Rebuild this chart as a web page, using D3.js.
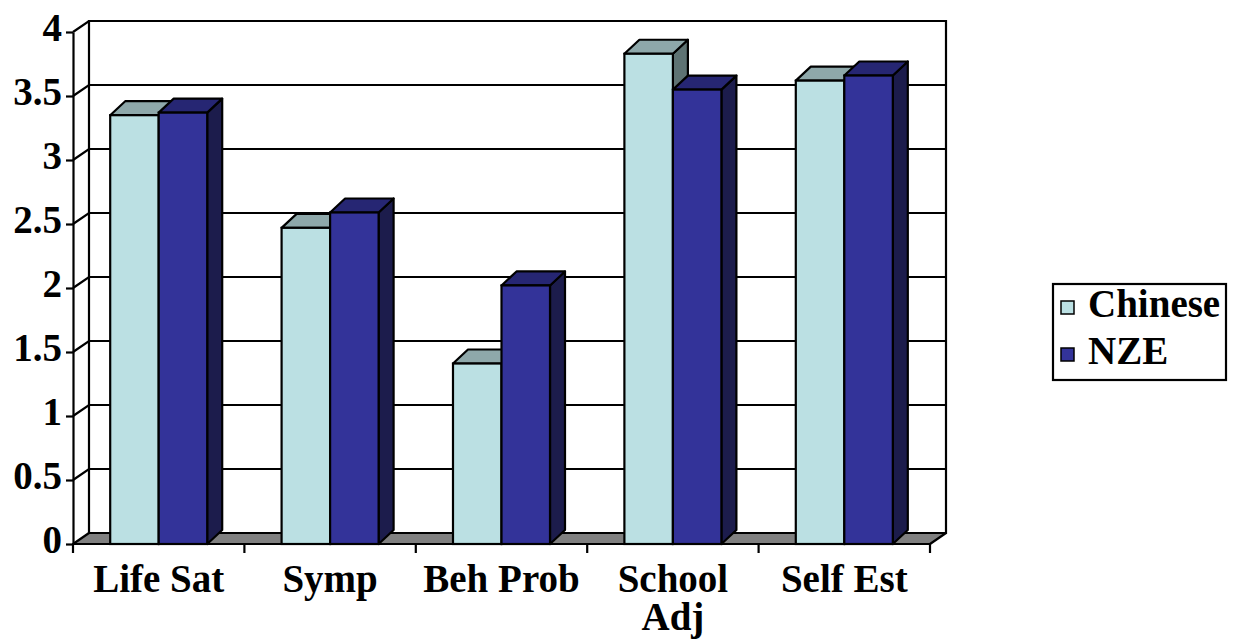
<!DOCTYPE html>
<html>
<head>
<meta charset="utf-8">
<script src="https://cdn.jsdelivr.net/npm/d3@7"></script>
<style>
  html, body { margin: 0; padding: 0; background: #fff; }
  svg { display: block; }
  svg text { font-family: "Liberation Serif", "Times New Roman", Times, "DejaVu Serif", serif !important; font-weight: 700; fill: #000; }
</style>
</head>
<body>
<svg id="chart" width="1238" height="641"></svg>
<script>
// Mean scores by domain for the two groups
const categories = ["Life Sat", "Symp", "Beh Prob", "School Adj", "Self Est"];
const seriesNames = ["Chinese", "NZE"];
const chineseValues = [3.35, 2.47, 1.41, 3.83, 3.62];
const nzeValues = [3.37, 2.59, 2.02, 3.55, 3.66];
const yTickValues = [0, 0.5, 1, 1.5, 2, 2.5, 3, 3.5, 4];

// Face colours for each series: front, top, side
const palette = {
  Chinese: { front: "#BBE0E3", top: "#8EA8AA", side: "#5E7373" },
  NZE:     { front: "#333399", top: "#262673", side: "#1C1C4C" }
};

const FONT = "'Liberation Serif', 'Times New Roman', Times, 'DejaVu Serif', serif";
const FS = "39px";

const svg = d3.select("#chart");
const W = 1238, H = 641;
svg.append("rect").attr("width", W).attr("height", H).attr("fill", "#fff");

// Front plane geometry and 3-D depth offsets
const x0 = 73, x1 = 930;
const wallDx = 16, wallDy = -11;
const barDx = 15, barDy = -14;

const y = d3.scaleLinear().domain([0, 4]).range([544, 32]);
const x = d3.scaleBand().domain(categories).range([x0, x1]).paddingInner(0).paddingOuter(0);
const bw = x.bandwidth();
const xs = d3.scaleBand().domain(seriesNames).range([bw * 0.217, bw * 0.783]).padding(0);

const rows = categories.map((c, i) => ({ cat: c, Chinese: chineseValues[i], NZE: nzeValues[i] }));

const line = d3.line();
const stroke = "#000", sw = 2.2;

// Back wall and left side wall
const wall = svg.append("g");
wall.append("path")
  .attr("d", line([[x0 + wallDx, y(4) + wallDy], [x1 + wallDx, y(4) + wallDy], [x1 + wallDx, y(0) + wallDy], [x0 + wallDx, y(0) + wallDy]]) + "Z")
  .attr("fill", "#fff").attr("stroke", stroke).attr("stroke-width", sw);

// Gridlines on the back wall, with their diagonals across the side wall
wall.selectAll("path.grid").data(yTickValues.filter(v => v > 0)).join("path").attr("class", "grid")
  .attr("d", v => line([[x0, y(v)], [x0 + wallDx, y(v) + wallDy], [x1 + wallDx, y(v) + wallDy]]))
  .attr("fill", "none").attr("stroke", stroke).attr("stroke-width", sw);

// Floor
wall.append("path")
  .attr("d", line([[x0, y(0)], [x0 + wallDx, y(0) + wallDy], [x1 + wallDx, y(0) + wallDy], [x1, y(0)]]) + "Z")
  .attr("fill", "#808080").attr("stroke", stroke).attr("stroke-width", sw).attr("stroke-linejoin", "round");

// Bars drawn as side, top and front faces
const bars = svg.append("g");
rows.forEach(r => {
  seriesNames.forEach(s => {
    const v = r[s];
    const bx = x(r.cat) + xs(s);
    const bx2 = bx + xs.bandwidth();
    const yt = y(v), yb = y(0);
    const col = palette[s];
    const g = bars.append("g");
    g.append("path")
      .attr("d", line([[bx2, yt], [bx2 + barDx, yt + barDy], [bx2 + barDx, yb + barDy], [bx2, yb]]) + "Z")
      .attr("fill", col.side).attr("stroke", stroke).attr("stroke-width", sw).attr("stroke-linejoin", "round");
    g.append("path")
      .attr("d", line([[bx, yt], [bx + barDx, yt + barDy], [bx2 + barDx, yt + barDy], [bx2, yt]]) + "Z")
      .attr("fill", col.top).attr("stroke", stroke).attr("stroke-width", sw).attr("stroke-linejoin", "round");
    g.append("rect")
      .attr("x", bx).attr("y", yt).attr("width", bx2 - bx).attr("height", yb - yt)
      .attr("fill", col.front).attr("stroke", stroke).attr("stroke-width", sw);
  });
});

// Value axis
const yAxis = svg.append("g")
  .attr("transform", `translate(${x0},0)`)
  .call(d3.axisLeft(y).tickValues(yTickValues).tickSize(7).tickSizeOuter(0).tickPadding(4).tickFormat(d3.format("~g")));
yAxis.attr("font-family", null).attr("font-size", null);
yAxis.select(".domain").attr("stroke", stroke).attr("stroke-width", sw);
yAxis.selectAll(".tick line").attr("stroke", stroke).attr("stroke-width", sw);
yAxis.selectAll(".tick text")
  .style("font-family", FONT).style("font-size", FS).style("font-weight", "700")
  .attr("dy", "0.22em").attr("fill", "#000");

// Category axis: boundary ticks plus centred labels
const xAxis = svg.append("g").attr("transform", `translate(0,${y(0)})`);
xAxis.append("line").attr("x1", x0).attr("x2", x1).attr("y1", 0).attr("y2", 0)
  .attr("stroke", stroke).attr("stroke-width", sw);
const bounds = categories.map(c => x(c)).concat([x1]);
xAxis.selectAll("line.bound").data(bounds).join("line").attr("class", "bound")
  .attr("x1", d => d).attr("x2", d => d).attr("y1", 0).attr("y2", 9)
  .attr("stroke", stroke).attr("stroke-width", sw);

const labels = xAxis.selectAll("text.cat").data(categories).join("text").attr("class", "cat")
  .attr("x", d => x(d) + bw / 2).attr("y", 48)
  .attr("text-anchor", "middle")
  .style("font-family", FONT).style("font-size", FS).style("font-weight", "700");
labels.each(function (d) {
  const t = d3.select(this);
  t.text(d);
  if (this.getComputedTextLength() > bw - 4) {
    const words = d.split(" ");
    t.text(null);
    words.forEach((w, i) => {
      t.append("tspan").attr("x", x(d) + bw / 2).attr("dy", i === 0 ? 0 : 38).text(w);
    });
  }
});

// Legend
const lg = svg.append("g").attr("transform", "translate(1053,284)");
lg.append("rect").attr("width", 173).attr("height", 96).attr("fill", "#fff")
  .attr("stroke", stroke).attr("stroke-width", sw);
seriesNames.forEach((s, i) => {
  const row = lg.append("g").attr("transform", `translate(8,${17 + i * 47})`);
  row.append("rect").attr("width", 13).attr("height", 13)
    .attr("fill", palette[s].front).attr("stroke", stroke).attr("stroke-width", 1.5);
  row.append("text").attr("x", 27).attr("y", 16)
    .style("font-family", FONT).style("font-size", FS).style("font-weight", "700").text(s);
});
</script>
</body>
</html>
